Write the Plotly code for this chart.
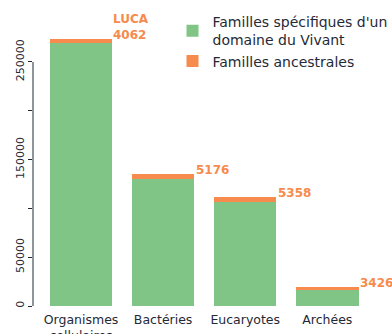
import plotly.graph_objects as go

# Familles de gènes par domaine du vivant
categories = ["Organismes<br>cellulaires", "Bactéries", "Eucaryotes", "Archées"]
specifiques = [269500, 130000, 106500, 16200]
ancestrales = [4062, 5176, 5358, 3426]
etiquettes = ["LUCA<br>4062", "5176", "5358", "3426"]

tick_vals = [0, 50000, 100000, 150000, 200000, 250000]
tick_text = ["0", "50000", "", "150000", "", "250000"]

green = "#80C585"
orange = "#F68B4D"
ink = "#1f2a36"

fig = go.Figure()
fig.add_trace(go.Bar(
    x=list(range(len(categories))), y=specifiques,
    name="Familles spécifiques d'un<br>domaine du Vivant",
    marker=dict(color=green, line=dict(width=0)),
))
fig.add_trace(go.Bar(
    x=list(range(len(categories))), y=ancestrales,
    name="Familles ancestrales",
    marker=dict(color=orange, line=dict(width=0)),
))

# Value labels at the top right corner of each stacked bar
for i, (s, a, t) in enumerate(zip(specifiques, ancestrales, etiquettes)):
    fig.add_annotation(
        x=i + 0.37, y=s + a, text=f"<b>{t}</b>",
        xref="x", yref="y", xanchor="left", yanchor="bottom",
        showarrow=False, align="left", yshift=-5,
        font=dict(family="DejaVu Sans", size=12, color=orange),
    )

# Y axis line drawn only over the tick span
fig.add_shape(type="line", xref="paper", yref="y",
              x0=0, x1=0, y0=0, y1=250000,
              line=dict(color=ink, width=1))

fig.update_layout(
    width=392, height=334,
    margin=dict(l=33, r=22, t=0, b=28, autoexpand=False),
    paper_bgcolor="white", plot_bgcolor="white",
    barmode="stack", bargap=0.24,
    font=dict(family="DejaVu Sans", color=ink),
    showlegend=True,
    legend=dict(
        x=0.414, y=0.98, xanchor="left", yanchor="top",
        traceorder="normal", bgcolor="rgba(0,0,0,0)",
        font=dict(size=14, color=ink),
        itemwidth=30, tracegroupgap=6,
    ),
    xaxis=dict(
        range=[-0.585, 3.52], showgrid=False, zeroline=False,
        showline=False, ticks="", automargin=False,
        ticklabelstandoff=4,
        tickmode="array", tickvals=list(range(len(categories))),
        ticktext=categories, tickfont=dict(size=12.5, color=ink),
    ),
    yaxis=dict(
        range=[0, 313500], showgrid=False, zeroline=False,
        showline=False, ticks="outside", ticklen=4, tickcolor=ink,
        automargin=False,
        tickmode="array", tickvals=tick_vals, ticktext=tick_text,
        tickangle=-90, tickfont=dict(size=11, color=ink),
    ),
)

fig.write_html("out.html")
